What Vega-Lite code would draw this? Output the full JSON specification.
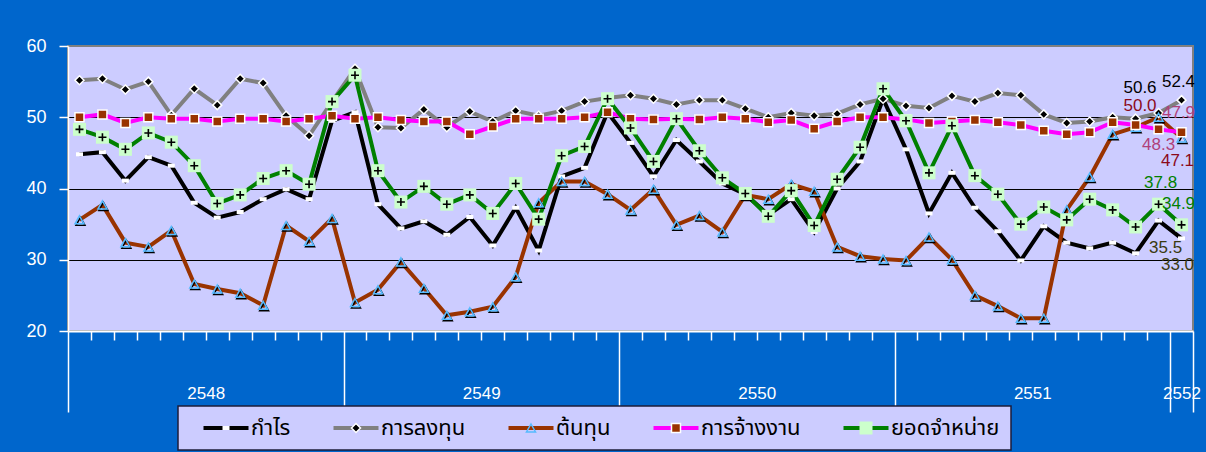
{
  "$schema": "https://vega.github.io/schema/vega-lite/v6.json",
  "width": 1125,
  "height": 285,
  "autosize": {"type": "none"},
  "padding": {"left": 68, "top": 46, "right": 13, "bottom": 121},
  "background": "#0066CC",
  "config": {
    "view": {"fill": "#CCCCFF", "stroke": "#808080", "strokeWidth": 2},
    "font": "Liberation Sans"
  },
  "data": {
    "values": [
      {"t": 0, "p": 44.8, "inv": 55.2, "cost": 35.6, "emp": 50.0, "sales": 48.3},
      {"t": 1, "p": 45.1, "inv": 55.4, "cost": 37.7, "emp": 50.4, "sales": 47.2},
      {"t": 2, "p": 41.1, "inv": 53.9, "cost": 32.4, "emp": 49.2, "sales": 45.5},
      {"t": 3, "p": 44.4, "inv": 55.0, "cost": 31.8, "emp": 50.0, "sales": 47.8},
      {"t": 4, "p": 43.2, "inv": 50.3, "cost": 34.1, "emp": 49.8, "sales": 46.5},
      {"t": 5, "p": 38.0, "inv": 54.0, "cost": 26.6, "emp": 49.8, "sales": 43.2},
      {"t": 6, "p": 35.9, "inv": 51.7, "cost": 25.9, "emp": 49.4, "sales": 37.9},
      {"t": 7, "p": 36.7, "inv": 55.4, "cost": 25.3, "emp": 49.8, "sales": 39.1},
      {"t": 8, "p": 38.5, "inv": 54.8, "cost": 23.6, "emp": 49.8, "sales": 41.4},
      {"t": 9, "p": 39.9, "inv": 50.2, "cost": 34.8, "emp": 49.4, "sales": 42.5},
      {"t": 10, "p": 38.5, "inv": 47.4, "cost": 32.6, "emp": 49.8, "sales": 40.6},
      {"t": 11, "p": 49.5, "inv": 52.2, "cost": 35.8, "emp": 50.2, "sales": 52.2},
      {"t": 12, "p": 50.7, "inv": 56.8, "cost": 24.0, "emp": 49.8, "sales": 55.9},
      {"t": 13, "p": 37.8, "inv": 48.6, "cost": 25.8, "emp": 50.0, "sales": 42.5},
      {"t": 14, "p": 34.4, "inv": 48.5, "cost": 29.7, "emp": 49.6, "sales": 38.1},
      {"t": 15, "p": 35.4, "inv": 51.1, "cost": 26.0, "emp": 49.4, "sales": 40.3},
      {"t": 16, "p": 33.5, "inv": 48.6, "cost": 22.2, "emp": 49.4, "sales": 37.8},
      {"t": 17, "p": 36.0, "inv": 50.8, "cost": 22.7, "emp": 47.6, "sales": 39.1},
      {"t": 18, "p": 32.0, "inv": 49.4, "cost": 23.4, "emp": 48.7, "sales": 36.5},
      {"t": 19, "p": 37.3, "inv": 50.9, "cost": 27.6, "emp": 49.8, "sales": 40.7},
      {"t": 20, "p": 31.3, "inv": 50.2, "cost": 38.0, "emp": 49.8, "sales": 35.7},
      {"t": 21, "p": 41.7, "inv": 50.9, "cost": 41.0, "emp": 49.8, "sales": 44.6},
      {"t": 22, "p": 42.9, "inv": 52.2, "cost": 41.0, "emp": 50.0, "sales": 45.9},
      {"t": 23, "p": 50.7, "inv": 52.7, "cost": 39.2, "emp": 50.7, "sales": 52.6},
      {"t": 24, "p": 46.4, "inv": 53.1, "cost": 37.0, "emp": 49.8, "sales": 48.5},
      {"t": 25, "p": 41.7, "inv": 52.6, "cost": 39.9, "emp": 49.7, "sales": 43.8},
      {"t": 26, "p": 46.8, "inv": 51.8, "cost": 34.9, "emp": 49.8, "sales": 49.8},
      {"t": 27, "p": 43.8, "inv": 52.4, "cost": 36.2, "emp": 49.7, "sales": 45.3},
      {"t": 28, "p": 40.7, "inv": 52.4, "cost": 33.9, "emp": 50.0, "sales": 41.5},
      {"t": 29, "p": 39.2, "inv": 51.2, "cost": 39.1, "emp": 49.8, "sales": 39.3},
      {"t": 30, "p": 36.3, "inv": 50.0, "cost": 38.5, "emp": 49.3, "sales": 36.1},
      {"t": 31, "p": 38.5, "inv": 50.6, "cost": 40.6, "emp": 49.6, "sales": 39.7},
      {"t": 32, "p": 33.9, "inv": 50.2, "cost": 39.6, "emp": 48.4, "sales": 34.8},
      {"t": 33, "p": 40.0, "inv": 50.5, "cost": 31.8, "emp": 49.4, "sales": 41.3},
      {"t": 34, "p": 43.8, "inv": 51.8, "cost": 30.5, "emp": 50.0, "sales": 45.8},
      {"t": 35, "p": 52.6, "inv": 52.6, "cost": 30.1, "emp": 50.0, "sales": 54.0},
      {"t": 36, "p": 45.5, "inv": 51.6, "cost": 29.9, "emp": 49.7, "sales": 49.5},
      {"t": 37, "p": 36.5, "inv": 51.3, "cost": 33.2, "emp": 49.2, "sales": 42.2},
      {"t": 38, "p": 42.2, "inv": 53.0, "cost": 30.0, "emp": 49.4, "sales": 48.8},
      {"t": 39, "p": 37.3, "inv": 52.2, "cost": 25.0, "emp": 49.6, "sales": 41.8},
      {"t": 40, "p": 34.0, "inv": 53.4, "cost": 23.5, "emp": 49.3, "sales": 39.2},
      {"t": 41, "p": 29.9, "inv": 53.1, "cost": 21.8, "emp": 48.9, "sales": 35.0},
      {"t": 42, "p": 34.7, "inv": 50.4, "cost": 21.8, "emp": 48.1, "sales": 37.4},
      {"t": 43, "p": 32.4, "inv": 49.2, "cost": 37.0, "emp": 47.6, "sales": 35.6},
      {"t": 44, "p": 31.6, "inv": 49.4, "cost": 41.6, "emp": 47.9, "sales": 38.5},
      {"t": 45, "p": 32.4, "inv": 50.0, "cost": 47.6, "emp": 49.3, "sales": 37.0},
      {"t": 46, "p": 30.9, "inv": 49.8, "cost": 48.6, "emp": 48.9, "sales": 34.6},
      {"t": 47, "p": 35.5, "inv": 50.6, "cost": 50.0, "emp": 48.3, "sales": 37.8},
      {"t": 48, "p": 33.0, "inv": 52.4, "cost": 47.1, "emp": 47.9, "sales": 34.9}
    ]
  },
  "transform": [
    {"fold": ["p", "inv", "cost", "emp", "sales"], "as": ["k", "v"]},
    {
      "lookup": "k",
      "from": {
        "data": {
          "values": [
            {"k": "p", "name": "กำไร"},
            {"k": "inv", "name": "การลงทุน"},
            {"k": "cost", "name": "ต้นทุน"},
            {"k": "emp", "name": "การจ้างงาน"},
            {"k": "sales", "name": "ยอดจำหน่าย"}
          ]
        },
        "key": "k",
        "fields": ["name"]
      }
    }
  ],
  "encoding": {
    "x": {
      "field": "t",
      "type": "quantitative",
      "scale": {"domain": [-0.5, 48.5], "nice": false, "zero": false},
      "axis": {
        "title": null,
        "grid": false,
        "values": [-0.5, 0.5, 1.5, 2.5, 3.5, 4.5, 5.5, 6.5, 7.5, 8.5, 9.5, 10.5, 11.5, 12.5, 13.5, 14.5, 15.5, 16.5, 17.5, 18.5, 19.5, 20.5, 21.5, 22.5, 23.5, 24.5, 25.5, 26.5, 27.5, 28.5, 29.5, 30.5, 31.5, 32.5, 33.5, 34.5, 35.5, 36.5, 37.5, 38.5, 39.5, 40.5, 41.5, 42.5, 43.5, 44.5, 45.5, 46.5, 47.5, 48, 48.5],
        "domainColor": "#FFFFFF",
        "domainWidth": 2,
        "tickColor": "#FFFFFF",
        "tickWidth": 1.5,
        "tickSize": {"condition": {"test": "datum.value == -0.5 || datum.value == 11.5 || datum.value == 23.5 || datum.value == 35.5 || datum.value == 47.5 || datum.value == 48.5", "value": 81}, "value": 9},
        "tickOpacity": {"condition": {"test": "datum.value == 48", "value": 0}, "value": 1},
        "labelExpr": "datum.value == 5.5 ? '2548' : datum.value == 17.5 ? '2549' : datum.value == 29.5 ? '2550' : datum.value == 41.5 ? '2551' : datum.value == 48 ? '2552' : ''",
        "labelColor": "#FFFFFF",
        "labelFont": "Liberation Sans",
        "labelFontSize": 17,
        "labelPadding": 45,
        "labelOverlap": false,
        "labelFlush": false,
        "labelBound": false
      }
    },
    "y": {
      "field": "v",
      "type": "quantitative",
      "scale": {"domain": [20, 60], "nice": false, "zero": false},
      "axis": {
        "title": null,
        "values": [20, 30, 40, 50, 60],
        "grid": true,
        "gridColor": "#000000",
        "gridWidth": 1,
        "gridOpacity": {"condition": {"test": "datum.value == 20 || datum.value == 60", "value": 0}, "value": 1},
        "domainColor": "#FFFFFF",
        "domainWidth": 1.5,
        "tickColor": "#FFFFFF",
        "tickWidth": 1.5,
        "tickSize": 9,
        "labelColor": "#FFFFFF",
        "labelFont": "Liberation Sans",
        "labelFontSize": 18,
        "labelPadding": 13
      }
    }
  },
  "layer": [
    {
      "mark": {"type": "line", "strokeWidth": 4},
      "encoding": {
        "color": {
          "field": "name",
          "type": "nominal",
          "scale": {
            "domain": ["กำไร", "การลงทุน", "ต้นทุน", "การจ้างงาน", "ยอดจำหน่าย"],
            "range": ["#000000", "#808080", "#993300", "#FF00FF", "#008000"]
          },
          "legend": {
            "orient": "none", "legendX": 110, "legendY": 360,
            "direction": "horizontal", "columns": 5, "title": null,
            "fillColor": "#CCCCFF", "strokeColor": "#1C1C3A", "padding": 11,
            "labelFont": "Noto Sans Thai, Loma, Garuda, Tahoma, sans-serif", "labelFontSize": 22, "labelColor": "#000000",
            "labelOffset": 14, "columnPadding": 28,
            "symbolType": "M-4.5,0H4.5", "symbolSize": 100, "symbolOffset": 26, "symbolStrokeWidth": 4,
            "encode": {
              "symbols": {"update": {"fill": {"value": "transparent"}, "strokeWidth": {"value": 4}}},
              "legend": {"update": {"strokeWidth": {"value": 1.5}}}
            }
          }
        },
        "detail": {"field": "name"}
      }
    },
    {
      "transform": [{"filter": "datum.k == 'cost'"}],
      "mark": {"type": "point", "shape": "M0,-0.8L0.9,0.8H-0.9Z", "size": 100, "filled": false, "stroke": "#000000", "strokeWidth": 1.5, "opacity": 1, "xOffset": 1, "yOffset": 1.5}
    },
    {
      "mark": {"type": "point", "filled": true, "size": 100, "strokeWidth": 1.5, "opacity": 1},
      "encoding": {
        "shape": {
          "field": "k", "type": "nominal",
          "scale": {"domain": ["p", "inv", "cost", "emp", "sales"], "range": ["M-0.7,-0.4H0.7V0.4H-0.7Z", "M0,-0.9L0.9,0L0,0.9L-0.9,0Z", "M0,-0.8L0.9,0.8H-0.9Z", "M-0.9,-0.9H0.9V0.9H-0.9Z", "M-1.3,-1.3H1.3V1.3H-1.3Z"]},
          "legend": {
            "orient": "none", "legendX": 110, "legendY": 360,
            "direction": "horizontal", "columns": 5, "title": null, "padding": 11,
            "labelFont": "Noto Sans Thai, Loma, Garuda, Tahoma, sans-serif", "labelFontSize": 22, "labelOpacity": 0,
            "labelExpr": "datum.value == 'p' ? 'กำไร' : datum.value == 'inv' ? 'การลงทุน' : datum.value == 'cost' ? 'ต้นทุน' : datum.value == 'emp' ? 'การจ้างงาน' : 'ยอดจำหน่าย'",
            "labelOffset": 14, "columnPadding": 28,
            "symbolSize": 100, "symbolOffset": 26, "symbolStrokeWidth": 1.5
          }
        },
        "fill": {
          "field": "k", "type": "nominal",
          "scale": {"domain": ["p", "inv", "cost", "emp", "sales"], "range": ["#FFFFFF", "#000000", "transparent", "#993300", "#CCFFCC"]},
          "legend": {
            "orient": "none", "legendX": 110, "legendY": 360,
            "direction": "horizontal", "columns": 5, "title": null, "padding": 11,
            "labelFont": "Noto Sans Thai, Loma, Garuda, Tahoma, sans-serif", "labelFontSize": 22, "labelOpacity": 0,
            "labelExpr": "datum.value == 'p' ? 'กำไร' : datum.value == 'inv' ? 'การลงทุน' : datum.value == 'cost' ? 'ต้นทุน' : datum.value == 'emp' ? 'การจ้างงาน' : 'ยอดจำหน่าย'",
            "labelOffset": 14, "columnPadding": 28,
            "symbolSize": 100, "symbolOffset": 26, "symbolStrokeWidth": 1.5
          }
        },
        "stroke": {
          "field": "k", "type": "nominal",
          "scale": {"domain": ["p", "inv", "cost", "emp", "sales"], "range": ["transparent", "#FFFFFF", "#55BBFF", "#FFFFFF", "transparent"]},
          "legend": {
            "orient": "none", "legendX": 110, "legendY": 360,
            "direction": "horizontal", "columns": 5, "title": null, "padding": 11,
            "labelFont": "Noto Sans Thai, Loma, Garuda, Tahoma, sans-serif", "labelFontSize": 22, "labelOpacity": 0,
            "labelExpr": "datum.value == 'p' ? 'กำไร' : datum.value == 'inv' ? 'การลงทุน' : datum.value == 'cost' ? 'ต้นทุน' : datum.value == 'emp' ? 'การจ้างงาน' : 'ยอดจำหน่าย'",
            "labelOffset": 14, "columnPadding": 28,
            "symbolSize": 100, "symbolOffset": 26, "symbolStrokeWidth": 1.5
          }
        }
      }
    },
    {
      "transform": [{"filter": "datum.k == 'sales'"}],
      "mark": {"type": "point", "shape": "M-0.8,0H0.8M0,-0.8V0.8", "size": 100, "filled": false, "stroke": "#000000", "strokeWidth": 1.6, "opacity": 1}
    },
    {
      "transform": [{"filter": "datum.k == 'inv' && datum.t == 47"}],
      "mark": {"type": "text", "align": "right", "baseline": "alphabetic", "dx": -2, "dy": -20, "fontSize": 17, "font": "Liberation Sans", "color": "#000000"},
      "encoding": {"text": {"field": "v", "type": "quantitative", "format": ".1f"}}
    },
    {
      "transform": [{"filter": "datum.k == 'inv' && datum.t == 48"}],
      "mark": {"type": "text", "align": "center", "baseline": "alphabetic", "dx": -3, "dy": -13, "fontSize": 17, "font": "Liberation Sans", "color": "#000000"},
      "encoding": {"text": {"field": "v", "type": "quantitative", "format": ".1f"}}
    },
    {
      "transform": [{"filter": "datum.k == 'cost' && datum.t == 47"}],
      "mark": {"type": "text", "align": "right", "baseline": "alphabetic", "dx": -2, "dy": -6, "fontSize": 17, "font": "Liberation Sans", "color": "#8B0A1A"},
      "encoding": {"text": {"field": "v", "type": "quantitative", "format": ".1f"}}
    },
    {
      "transform": [{"filter": "datum.k == 'cost' && datum.t == 48"}],
      "mark": {"type": "text", "align": "center", "baseline": "alphabetic", "dx": -4, "dy": 28, "fontSize": 17, "font": "Liberation Sans", "color": "#8B0A1A"},
      "encoding": {"text": {"field": "v", "type": "quantitative", "format": ".1f"}}
    },
    {
      "transform": [{"filter": "datum.k == 'emp' && datum.t == 47"}],
      "mark": {"type": "text", "align": "center", "baseline": "alphabetic", "dx": 0, "dy": 21, "fontSize": 17, "font": "Liberation Sans", "color": "#B0407A"},
      "encoding": {"text": {"field": "v", "type": "quantitative", "format": ".1f"}}
    },
    {
      "transform": [{"filter": "datum.k == 'emp' && datum.t == 48"}],
      "mark": {"type": "text", "align": "center", "baseline": "alphabetic", "dx": -3, "dy": -14, "fontSize": 17, "font": "Liberation Sans", "color": "#B0407A"},
      "encoding": {"text": {"field": "v", "type": "quantitative", "format": ".1f"}}
    },
    {
      "transform": [{"filter": "datum.k == 'sales' && datum.t == 47"}],
      "mark": {"type": "text", "align": "center", "baseline": "alphabetic", "dx": 2, "dy": -16, "fontSize": 17, "font": "Liberation Sans", "color": "#008000"},
      "encoding": {"text": {"field": "v", "type": "quantitative", "format": ".1f"}}
    },
    {
      "transform": [{"filter": "datum.k == 'sales' && datum.t == 48"}],
      "mark": {"type": "text", "align": "center", "baseline": "alphabetic", "dx": -3, "dy": -16, "fontSize": 17, "font": "Liberation Sans", "color": "#008000"},
      "encoding": {"text": {"field": "v", "type": "quantitative", "format": ".1f"}}
    },
    {
      "transform": [{"filter": "datum.k == 'p' && datum.t == 47"}],
      "mark": {"type": "text", "align": "center", "baseline": "alphabetic", "dx": 7, "dy": 32, "fontSize": 17, "font": "Liberation Sans", "color": "#3A3A10"},
      "encoding": {"text": {"field": "v", "type": "quantitative", "format": ".1f"}}
    },
    {
      "transform": [{"filter": "datum.k == 'p' && datum.t == 48"}],
      "mark": {"type": "text", "align": "center", "baseline": "alphabetic", "dx": -4, "dy": 32, "fontSize": 17, "font": "Liberation Sans", "color": "#3A3A10"},
      "encoding": {"text": {"field": "v", "type": "quantitative", "format": ".1f"}}
    }
  ]
}
